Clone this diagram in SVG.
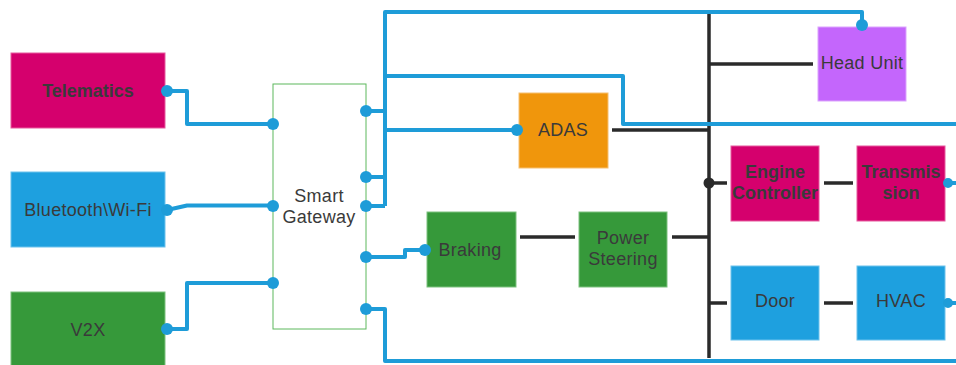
<svg xmlns="http://www.w3.org/2000/svg" width="956" height="365" viewBox="0 0 956 365">
  <style>
    .box { stroke-width: 1; }
    .mag { fill: #d5006d; stroke: #e65a9e; }
    .blu { fill: #1ea0df; stroke: #6cc2ec; }
    .grn { fill: #36993a; stroke: #7cc17e; }
    .org { fill: #f0960c; stroke: #f6c070; }
    .pur { fill: #c466fc; stroke: #dba4fd; }
    .gw { fill: #ffffff; stroke: #5cb85c; stroke-width: 1; }
    .lbl { font-family: "Liberation Sans", Arial, sans-serif; font-size: 18px; fill: #3a3a3a; text-anchor: middle; letter-spacing: 0.3px; }
    .bold { font-weight: bold; letter-spacing: 0; }
    .bus { fill: none; stroke: #1e9cd8; stroke-width: 4; stroke-linejoin: round; stroke-linecap: butt; }
    .blk { fill: none; stroke: #2a2a2a; stroke-width: 3.5; stroke-linecap: butt; }
    .dot { fill: #1e9cd8; }
    .bdot { fill: #2a2a2a; }
  </style>

  <g id="telematics">
    <rect class="box mag" x="11" y="53" width="154" height="75"/>
    <text class="lbl bold" x="88" y="97">Telematics</text>
  </g>
  <g id="bluetooth-wifi">
    <rect class="box blu" x="11" y="172" width="154" height="75"/>
    <text class="lbl" x="88" y="216">Bluetooth\Wi-Fi</text>
  </g>
  <g id="v2x">
    <rect class="box grn" x="11" y="292" width="154" height="80"/>
    <text class="lbl" x="88" y="336">V2X</text>
  </g>
  <g id="smart-gateway">
    <rect class="gw" x="273" y="84" width="93" height="245"/>
    <text class="lbl" x="319" y="202">Smart</text>
    <text class="lbl" x="319" y="223">Gateway</text>
  </g>
  <g id="adas">
    <rect class="box org" x="519" y="93" width="89" height="75"/>
    <text class="lbl" x="563" y="136">ADAS</text>
  </g>
  <g id="head-unit">
    <rect class="box pur" x="818" y="27" width="88" height="74"/>
    <text class="lbl" x="862" y="69">Head Unit</text>
  </g>
  <g id="braking">
    <rect class="box grn" x="427" y="212" width="89" height="75"/>
    <text class="lbl" x="470" y="256">Braking</text>
  </g>
  <g id="power-steering">
    <rect class="box grn" x="579" y="212" width="88" height="75"/>
    <text class="lbl" x="623" y="244">Power</text>
    <text class="lbl" x="623" y="265">Steering</text>
  </g>
  <g id="engine-controller">
    <rect class="box mag" x="731" y="146" width="88" height="75"/>
    <text class="lbl bold" x="775" y="178">Engine</text>
    <text class="lbl bold" x="775" y="199">Controller</text>
  </g>
  <g id="transmission">
    <rect class="box mag" x="857" y="146" width="88" height="75"/>
    <text class="lbl bold" x="901" y="178">Transmis</text>
    <text class="lbl bold" x="901" y="199">sion</text>
  </g>
  <g id="door">
    <rect class="box blu" x="731" y="266" width="88" height="74"/>
    <text class="lbl" x="775" y="307">Door</text>
  </g>
  <g id="hvac">
    <rect class="box blu" x="857" y="266" width="88" height="74"/>
    <text class="lbl" x="901" y="307">HVAC</text>
  </g>

  <!-- connectors, drawn over the boxes so the port dots stay whole -->
  <g id="connectors">
    <!-- local wired links (black) -->
    <path class="blk" d="M709 13 V358"/>
    <path class="blk" d="M709 64 H813"/>
    <path class="blk" d="M612 130 H709"/>
    <path class="blk" d="M709 183 H727"/>
    <path class="blk" d="M824 183 H853"/>
    <path class="blk" d="M672 237 H709"/>
    <path class="blk" d="M520 237 H575"/>
    <path class="blk" d="M709 303 H727"/>
    <path class="blk" d="M824 303 H853"/>
    <circle class="bdot" cx="709" cy="183" r="5.5"/>

    <!-- gateway links (blue) -->
    <path class="bus" d="M167 91 H187 V124 H273"/>
    <path class="bus" d="M167 210 L187 205.5 H273"/>
    <path class="bus" d="M167 329 H187 V283 H273"/>
    <path class="bus" d="M385 206 V12 H862 V25"/>
    <path class="bus" d="M366 111 H385"/>
    <path class="bus" d="M366 177 H385"/>
    <path class="bus" d="M366 206 H385"/>
    <path class="bus" d="M385 76 H623 V124 H956"/>
    <path class="bus" d="M385 130 H517"/>
    <path class="bus" d="M366 257 H405 V250 H425"/>
    <path class="bus" d="M366 309 H385 V361 H956"/>
    <path class="bus" d="M947 183 H956"/>
    <path class="bus" d="M947 303 H956"/>

    <circle class="dot" cx="167" cy="91" r="6"/>
    <circle class="dot" cx="273" cy="124" r="6"/>
    <circle class="dot" cx="167" cy="210" r="6"/>
    <circle class="dot" cx="273" cy="206" r="6"/>
    <circle class="dot" cx="167" cy="329" r="6"/>
    <circle class="dot" cx="273" cy="283" r="6"/>
    <circle class="dot" cx="366" cy="111" r="6"/>
    <circle class="dot" cx="366" cy="177" r="6"/>
    <circle class="dot" cx="366" cy="206" r="6"/>
    <circle class="dot" cx="366" cy="257" r="6"/>
    <circle class="dot" cx="366" cy="309" r="6"/>
    <circle class="dot" cx="862" cy="25" r="6"/>
    <circle class="dot" cx="517" cy="130" r="6"/>
    <circle class="dot" cx="425" cy="250" r="6"/>
    <circle class="dot" cx="948" cy="183" r="5"/>
    <circle class="dot" cx="948" cy="303" r="5"/>
  </g>
</svg>
